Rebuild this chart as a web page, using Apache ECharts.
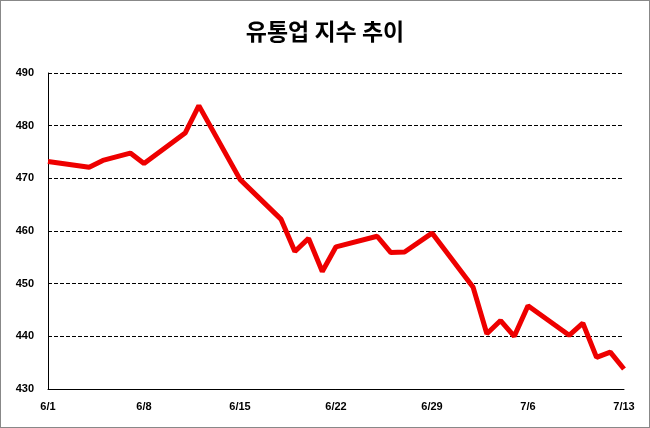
<!DOCTYPE html>
<html><head><meta charset="utf-8">
<script src="https://cdn.jsdelivr.net/npm/echarts@6/dist/echarts.min.js"></script>
<style>html,body{margin:0;padding:0;background:#fff}#c{width:650px;height:428px;box-sizing:border-box;border:1px solid #888}</style>
</head><body><div id="c"></div>
<script>
const dates = ['6/1','6/4','6/5','6/7','6/8','6/11','6/12','6/15','6/18','6/19','6/20','6/21','6/22','6/25','6/26','6/27','6/29','7/2','7/3','7/4','7/5','7/6','7/9','7/10','7/11','7/12','7/13'];
const dayOffsets = [0,3,4,6,7,10,11,14,17,18,19,20,21,24,25,26,28,31,32,33,34,35,38,39,40,41,42];
const values = [473.2,472.1,473.4,474.8,472.8,478.6,483.8,469.8,462.2,456.1,458.6,452.3,457.0,459.0,455.9,456.0,459.6,449.3,440.5,443.0,440.0,445.8,440.2,442.5,436.0,437.0,433.8];
const tickLabels = ['6/1','6/8','6/15','6/22','6/29','7/6','7/13'];
const chart = echarts.init(document.getElementById('c'));
chart.setOption({
  animation:false,
  title:{text:'유통업 지수 추이',left:'center',top:14,textStyle:{fontFamily:'Noto Sans CJK KR',fontSize:23,fontWeight:'bold',color:'#000'}},
  grid:{left:47,right:25,top:72,bottom:38},
  xAxis:{type:'value',min:0,max:42,interval:7,
    axisLine:{show:true,lineStyle:{color:'#000'}},axisTick:{show:false},splitLine:{show:false},
    axisLabel:{fontWeight:'bold',fontSize:11,color:'#000',margin:12,formatter:v=>tickLabels[v/7]}},
  yAxis:{type:'value',min:430,max:490,interval:10,
    axisLine:{show:true,lineStyle:{color:'#000'}},axisTick:{show:false},
    splitLine:{lineStyle:{type:'dashed',color:'#000'}},
    axisLabel:{fontWeight:'bold',fontSize:11,color:'#000',margin:14}},
  series:[{type:'line',data:dayOffsets.map((d,i)=>[d,values[i]]),symbol:'none',lineStyle:{color:'#ee0000',width:5}}]
});
</script></body></html>
